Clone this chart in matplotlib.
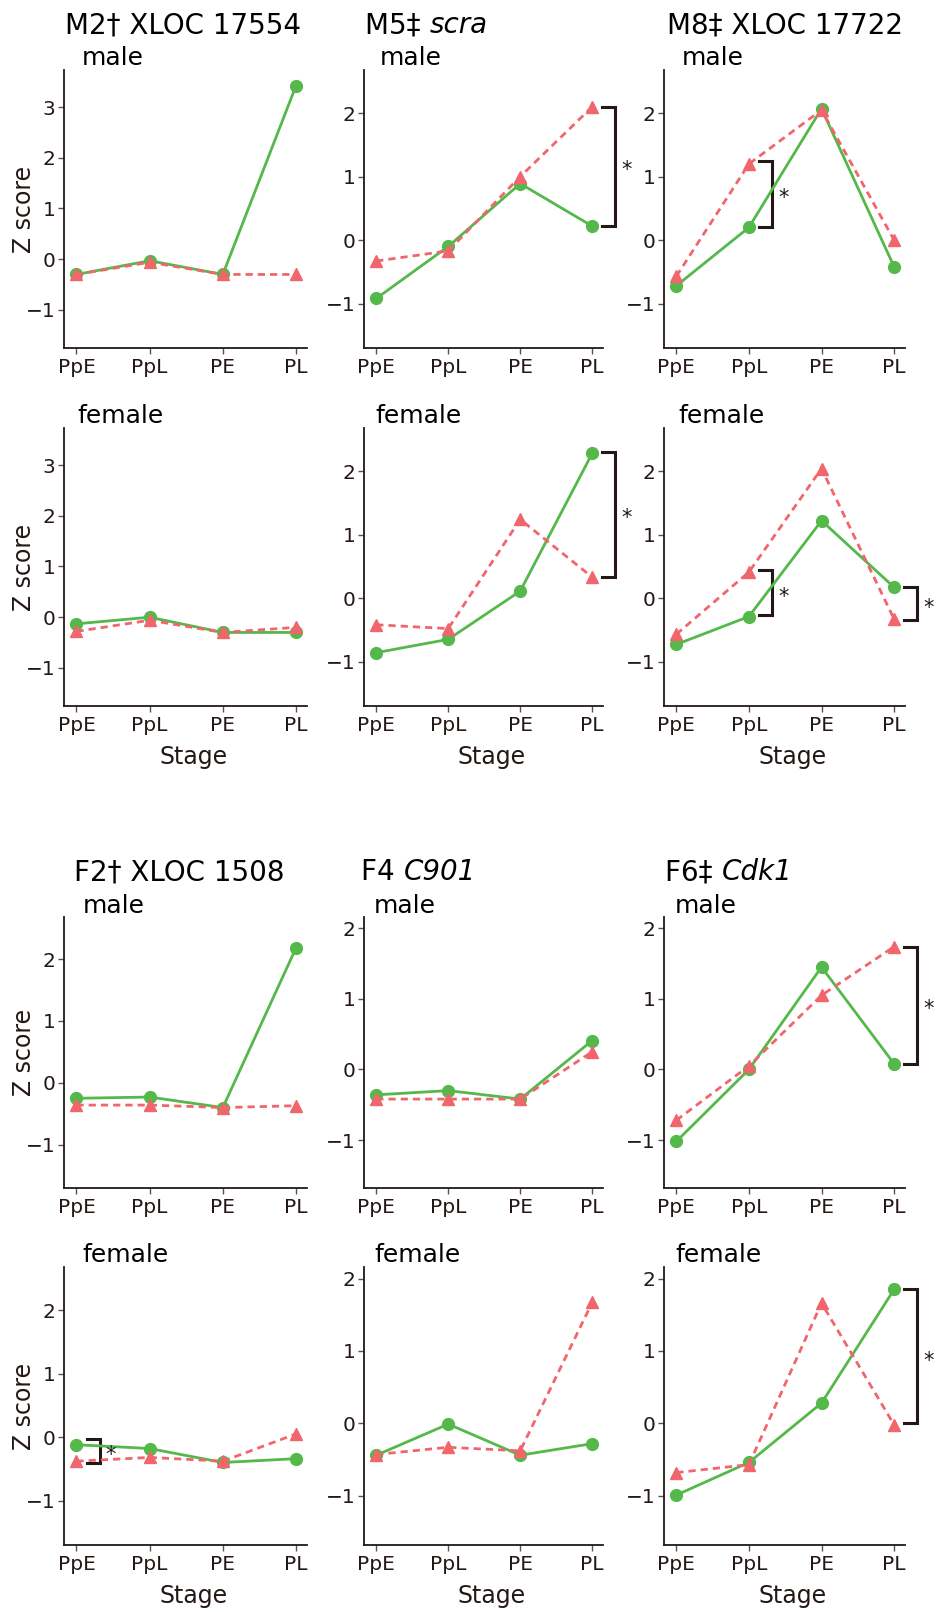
import matplotlib
matplotlib.use("Agg")
import matplotlib.pyplot as plt

W, H, DPI = 936, 1612, 100

stages = ["PpE", "PpL", "PE", "PL"]

# circle (green, solid) and triangle (red, dashed) series per panel
m2_male_circle = [-0.30, -0.03, -0.30, 3.42]
m2_male_tri = [-0.30, -0.06, -0.30, -0.30]
m2_female_circle = [-0.13, 0.00, -0.30, -0.30]
m2_female_tri = [-0.28, -0.06, -0.30, -0.20]

m5_male_circle = [-0.92, -0.10, 0.89, 0.22]
m5_male_tri = [-0.33, -0.17, 1.00, 2.10]
m5_female_circle = [-0.86, -0.65, 0.11, 2.28]
m5_female_tri = [-0.42, -0.48, 1.24, 0.33]

m8_male_circle = [-0.72, 0.20, 2.07, -0.42]
m8_male_tri = [-0.57, 1.20, 2.05, 0.00]
m8_female_circle = [-0.73, -0.29, 1.22, 0.17]
m8_female_tri = [-0.57, 0.41, 2.04, -0.33]

f2_male_circle = [-0.25, -0.23, -0.40, 2.18]
f2_male_tri = [-0.36, -0.36, -0.40, -0.37]
f2_female_circle = [-0.12, -0.18, -0.40, -0.34]
f2_female_tri = [-0.38, -0.32, -0.38, 0.05]

f4_male_circle = [-0.36, -0.30, -0.42, 0.41]
f4_male_tri = [-0.42, -0.42, -0.42, 0.25]
f4_female_circle = [-0.44, -0.01, -0.44, -0.28]
f4_female_tri = [-0.43, -0.33, -0.38, 1.67]

f6_male_circle = [-1.02, 0.00, 1.45, 0.08]
f6_male_tri = [-0.72, 0.05, 1.05, 1.74]
f6_female_circle = [-0.99, -0.54, 0.28, 1.85]
f6_female_tri = [-0.68, -0.57, 1.66, -0.02]

gene_titles = [("M2\u2020 XLOC 17554", ""), ("M5\u2021 ", "scra"), ("M8\u2021 XLOC 17722", ""),
               ("F2\u2020 XLOC 1508", ""), ("F4 ", "C901"), ("F6\u2021 ", "Cdk1")]

# (row, col) -> data
panels = {
    (0, 0): (m2_male_circle, m2_male_tri), (1, 0): (m2_female_circle, m2_female_tri),
    (0, 1): (m5_male_circle, m5_male_tri), (1, 1): (m5_female_circle, m5_female_tri),
    (0, 2): (m8_male_circle, m8_male_tri), (1, 2): (m8_female_circle, m8_female_tri),
    (2, 0): (f2_male_circle, f2_male_tri), (3, 0): (f2_female_circle, f2_female_tri),
    (2, 1): (f4_male_circle, f4_male_tri), (3, 1): (f4_female_circle, f4_female_tri),
    (2, 2): (f6_male_circle, f6_male_tri), (3, 2): (f6_female_circle, f6_female_tri),
}

# significance brackets: (row, col) -> list of (stage index, top, bottom)
brackets = {
    (0, 1): [(3, 2.10, 0.22)],
    (1, 1): [(3, 2.30, 0.33)],
    (0, 2): [(1, 1.25, 0.20)],
    (1, 2): [(1, 0.44, -0.27), (3, 0.17, -0.35)],
    (3, 0): [(0, -0.03, -0.41)],
    (2, 2): [(3, 1.74, 0.08)],
    (3, 2): [(3, 1.85, 0.00)],
}

ylims = {0: (-1.75, 3.73), 1: (-1.70, 2.68), 2: (-1.70, 2.68),
         3: (-1.70, 2.68), 4: (-1.68, 2.16), 5: (-1.68, 2.16)}

GREEN = "#55B84B"
RED = "#F0666C"
INK = "#231815"

col_px = [(64, 307), (364, 603), (664, 905)]
row_px = [(70, 348), (428, 706), (917, 1188), (1267, 1545)]

fig = plt.figure(figsize=(W / DPI, H / DPI), dpi=DPI)
plt.rcParams["font.family"] = ["DejaVu Sans"]


def px_box(c, r):
    x0, x1 = col_px[c]
    t, b = row_px[r]
    return [x0 / W, 1 - b / H, (x1 - x0) / W, (b - t) / H]


for (r, c), (circ, tri) in panels.items():
    ax = fig.add_axes(px_box(c, r))
    gene = (r // 2) * 3 + c
    x = list(range(len(stages)))
    ax.plot(x, circ, color=GREEN, lw=2, marker="o", ms=8.5, zorder=3, clip_on=False)
    ax.plot(x, tri, color=RED, lw=2, ls=(0, (2.6, 1.8)), marker="^", ms=9,
            zorder=4, clip_on=False)
    ax.set_xlim(-0.17, 3.15)
    ax.set_ylim(*ylims[gene])
    ax.set_xticks(x, stages)
    ax.set_yticks([-1, 0, 1, 2, 3] if gene == 0 else [-1, 0, 1, 2])
    for s in ("top", "right"):
        ax.spines[s].set_visible(False)
    for s in ("left", "bottom"):
        ax.spines[s].set_linewidth(1.3)
        ax.spines[s].set_color(INK)
    ax.tick_params(length=4, width=1, color="#555555", labelsize=14.5,
                   labelcolor=INK)
    ax.tick_params(axis="x", pad=3)
    ax.tick_params(axis="y", pad=2)

    for i, top, bot in brackets.get((r, c), []):
        xa, xb = i + 0.14, i + 0.32
        ax.plot([xa, xb, xb, xa], [top, top, bot, bot], color=INK, lw=2.2,
                clip_on=False, solid_joinstyle="miter")
        ax.text(i + 0.40, (top + bot) / 2 - 0.06, "*", fontsize=15,
                ha="left", va="center", color=INK, clip_on=False)

    x0, x1 = col_px[c]
    t, b = row_px[r]
    if c == 0:
        fig.text(24 / W, 1 - (t + b) / 2 / H, "Z score", rotation=90,
                 fontsize=17, ha="center", va="center", color=INK)
    if r in (1, 3):
        fig.text(((x0 + x1) / 2 + 8) / W, 1 - (b + 51) / H, "Stage",
                 fontsize=17, ha="center", va="center", color=INK)

# sex labels
sex_x = {0: [82, 380, 682], 1: [77, 375, 678], 2: [83, 374, 675], 3: [82, 374, 675]}
sex_base = {0: 65, 1: 423, 2: 913, 3: 1262}
for r in range(4):
    for c in range(3):
        fig.text(sex_x[r][c] / W, 1 - sex_base[r] / H,
                 "male" if r in (0, 2) else "female",
                 fontsize=18, ha="left", va="baseline", color="black")

# gene titles (upright part + italic part)
title_x = [65, 365, 667, 74, 361, 665]
title_base = [33, 33, 33, 880, 880, 880]
renderer = fig.canvas.get_renderer()
for g, (plain, ital) in enumerate(gene_titles):
    tx = fig.text(title_x[g] / W, 1 - title_base[g] / H, plain, fontsize=20,
                  ha="left", va="baseline", color="black")
    if ital:
        bb = tx.get_window_extent(renderer)
        fig.text(bb.x1 / W, 1 - title_base[g] / H, ital, fontsize=20,
                 style="italic", ha="left", va="baseline", color="black")

fig.savefig("out.png", dpi=DPI)
